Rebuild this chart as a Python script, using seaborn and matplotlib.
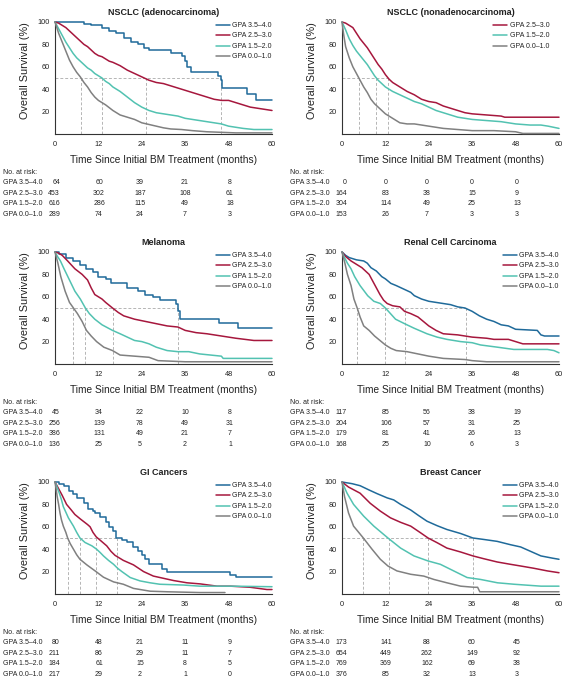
import pandas as pd
import matplotlib
matplotlib.use('Agg')
import matplotlib.pyplot as plt
import seaborn as sns

# ---- data ----
groups = ['GPA 3.5–4.0', 'GPA 2.5–3.0', 'GPA 1.5–2.0', 'GPA 0.0–1.0']
risk_times = [0, 12, 24, 36, 48]

# NSCLC adenocarcinoma
ad_hi_t = [0, 8, 10, 13, 15, 17, 19, 21, 23, 24.5, 26, 32, 35, 36, 36.5, 37.5, 45, 45.8, 46.2, 53, 55.5, 60]
ad_hi_s = [100, 98, 97, 95, 92, 90, 86, 82, 80, 77, 75, 72, 70, 65, 60, 55, 52, 48, 41, 36, 30, 30]
ad_mid_t = [0, 1, 2, 3, 4, 5, 6, 7, 8, 9, 10, 11, 12, 13, 14, 15, 16, 18, 20, 22, 24, 26, 28, 30, 32, 34, 36, 38, 40, 42, 44, 46, 48, 50, 52, 54, 56, 58, 60]
ad_mid_s = [100, 99, 97, 95, 92, 89, 86, 83, 80, 78, 75, 72, 70, 69, 67, 65, 64, 61, 57, 54, 51, 48, 46, 45, 43, 41, 39, 37, 35, 33, 31, 30, 30, 28, 26, 24, 23, 22, 21]
ad_low_t = [0, 1, 2, 3, 4, 5, 6, 7, 8, 9, 10, 11, 12, 13, 14, 15, 16, 18, 20, 22, 24, 26, 28, 30, 32, 34, 36, 38, 40, 42, 44, 46, 48, 50, 52, 55, 60]
ad_low_s = [100, 94, 88, 82, 77, 72, 68, 65, 62, 59, 57, 54, 52, 50, 47, 45, 42, 38, 33, 28, 24, 21, 19, 18, 17, 16, 14, 13, 12, 11, 10, 9, 7, 6, 5, 4, 4]
ad_min_t = [0, 0.5, 1, 2, 3, 4, 5, 6, 7, 8, 9, 10, 11, 12, 13, 14, 16, 18, 20, 22, 24, 26, 28, 30, 32, 35, 38, 42, 46, 50, 60]
ad_min_s = [100, 95, 90, 82, 74, 66, 60, 55, 51, 46, 42, 37, 33, 30, 28, 26, 21, 17, 15, 13, 10, 8.5, 7, 5.5, 4.5, 4, 3, 2, 1.5, 1, 1]
ad_medians = [7.3, 13.1, 25.2, 45.9]
ad_risk_hi = [64, 60, 39, 21, 8]
ad_risk_mid = [453, 302, 187, 108, 61]
ad_risk_low = [616, 286, 115, 49, 18]
ad_risk_min = [289, 74, 24, 7, 3]

# NSCLC nonadenocarcinoma
na_mid_t = [0, 1, 2, 3, 4, 5, 6, 7, 8, 9, 10, 11, 12, 13, 14, 15, 16, 18, 20, 22, 24, 26, 28, 30, 32, 34, 36, 40, 44, 45, 60]
na_mid_s = [100, 99, 97, 95, 90, 85, 81, 77, 72, 67, 62, 58, 53, 49, 46, 44, 42, 38, 35, 31, 29, 28, 25, 23, 21, 19, 18, 17, 16, 15, 15]
na_low_t = [0, 1, 2, 3, 4, 5, 6, 7, 8, 9, 10, 11, 12, 13, 14, 16, 18, 20, 22, 24, 26, 28, 30, 32, 34, 36, 40, 44, 48, 52, 55, 57, 60]
na_low_s = [100, 93, 85, 79, 74, 70, 66, 62, 57, 52, 48, 45, 42, 40, 38, 35, 32, 29, 27, 24, 21, 19, 17, 15, 14, 13, 12, 11, 9, 8, 8, 7, 5]
na_min_t = [0, 0.5, 1, 2, 3, 4, 5, 6, 7, 8, 9, 10, 11, 12, 13, 14, 16, 18, 20, 22, 24, 26, 28, 32, 36, 42, 48, 50, 60]
na_min_s = [100, 88, 78, 68, 60, 54, 48, 42, 37, 31, 27, 24, 21, 18, 16, 14, 10, 9, 9, 8, 7, 6, 5, 4, 3, 3, 2, 0.5, 0.5]
na_medians = [4.6, 9.4, 12.6]
na_risk_hi = [0, 0, 0, 0, 0]
na_risk_mid = [164, 83, 38, 15, 9]
na_risk_low = [304, 114, 49, 25, 13]
na_risk_min = [153, 26, 7, 3, 3]

# Melanoma
me_hi_t = [0, 1, 3, 5, 7, 8.5, 10.5, 12, 14, 15.5, 20, 23, 25, 27, 29, 33.5, 34, 34.5, 45.3, 50.5, 60]
me_hi_s = [100, 98, 95, 92, 88, 85, 82, 78, 76, 72, 68, 65, 62, 60, 57, 54, 47, 40, 37, 32, 32]
me_mid_t = [0, 1, 2, 3.5, 5.5, 7.5, 9, 10, 11, 13, 14, 15.9, 17.5, 19, 22, 25, 28, 31, 34, 36, 39, 42, 46, 50, 55, 60]
me_mid_s = [100, 99, 97, 92, 85, 80, 75, 68, 62, 58, 55, 50, 46, 43, 40, 38, 36, 34, 33, 30, 28, 27, 25, 23, 21, 21]
me_low_t = [0, 0.7, 1.5, 2.5, 4, 5.5, 7, 8.4, 9.5, 11, 13, 15.9, 18, 20, 22, 24, 26, 28, 31, 34, 37, 40, 43, 46, 46.5, 60]
me_low_s = [100, 96, 92, 85, 75, 65, 58, 50, 45, 40, 35, 30, 27, 24, 21, 20, 18, 15, 12, 11, 11, 9, 8, 7, 5, 5]
me_min_t = [0, 0.8, 1.6, 2.8, 4, 5.1, 6.2, 7.5, 8.7, 10, 11.5, 13.5, 15.9, 18, 22, 26, 28.5, 36, 60]
me_min_s = [100, 90, 78, 65, 55, 50, 45, 38, 30, 25, 20, 15, 12, 8, 7, 6, 3, 2, 2]
me_medians = [5.1, 8.4, 15.9, 34.0]
me_risk_hi = [45, 34, 22, 10, 8]
me_risk_mid = [256, 139, 78, 49, 31]
me_risk_low = [386, 131, 49, 21, 7]
me_risk_min = [136, 25, 5, 2, 1]

# Renal cell carcinoma
rc_hi_t = [0, 1, 2, 4, 6, 7, 8, 9.5, 11, 12, 13.5, 15, 17, 19, 20, 22, 24, 26, 28, 30, 32, 34, 36, 38, 40, 42, 44, 46, 48, 54, 55, 56, 60]
rc_hi_s = [100, 97, 95, 93, 92, 90, 86, 83, 78, 76, 72, 70, 67, 64, 61, 58, 56, 55, 54, 53, 51, 50, 47, 43, 40, 38, 35, 34, 31, 30, 26, 25, 25]
rc_mid_t = [0, 1, 2.5, 4, 5.5, 7.5, 8.5, 9.5, 10.5, 11.5, 12.5, 14, 16, 17.3, 19, 21, 22.5, 24, 26, 28, 32, 36, 40, 42, 46, 48, 50, 60]
rc_mid_s = [100, 96, 92, 89, 86, 80, 74, 68, 62, 57, 54, 52, 51, 47, 45, 42, 38, 34, 30, 27, 26, 24, 23, 22, 22, 20, 18, 18]
rc_low_t = [0, 0.7, 1.5, 2.5, 3.5, 5, 7.1, 8.8, 10.6, 12, 13.4, 14.8, 17.3, 19.9, 23.5, 26.3, 29, 32.8, 36, 38.3, 43, 47.5, 56.8, 58.6, 60]
rc_low_s = [100, 95, 90, 85, 78, 70, 61, 56, 54, 50, 45, 40, 36, 32, 27, 24, 22, 20, 19, 17, 15, 13, 13, 12, 10]
rc_min_t = [0, 0.8, 1.5, 2.5, 3.3, 4.2, 5, 6, 7.5, 9, 10.5, 12, 13.5, 15, 18, 21, 24, 28, 34, 36, 40, 60]
rc_min_s = [100, 90, 80, 70, 58, 50, 42, 34, 30, 25, 21, 17, 14, 12, 11, 9, 7, 5, 4, 3, 2, 2]
rc_medians = [4.2, 12.0, 17.3, 34.4]
rc_risk_hi = [117, 85, 56, 38, 19]
rc_risk_mid = [204, 106, 57, 31, 25]
rc_risk_low = [179, 81, 41, 26, 13]
rc_risk_min = [168, 25, 10, 6, 3]

# GI cancers
gi_hi_t = [0, 1, 2.5, 4, 5, 6, 8, 9, 10.5, 11, 12.5, 14, 15, 16, 17, 18.5, 20, 21.5, 23, 24, 25, 26, 29.5, 31, 48.5, 50, 60]
gi_hi_s = [100, 98, 96, 92, 89, 86, 81, 76, 74, 72, 69, 64, 60, 56, 50, 48, 46, 42, 38, 35, 31, 27, 22, 20, 17, 15, 15]
gi_mid_t = [0, 1, 2, 3.2, 4.5, 5.5, 7, 7.8, 9, 9.7, 10.5, 11.4, 12.5, 14.3, 15.5, 16.6, 18.9, 21.7, 24.5, 27.2, 30, 32.8, 36.5, 40.2, 44.8, 48.5, 54, 58.6, 60]
gi_mid_s = [100, 94, 88, 80, 75, 71, 67, 65, 62, 60, 55, 51, 48, 43, 38, 34.5, 30, 26, 20, 16, 14, 12, 10, 9, 7, 7, 6, 4, 4]
gi_low_t = [0, 0.6, 1.2, 1.8, 2.3, 3, 3.7, 5.1, 6, 6.9, 8.3, 10.2, 11.5, 12.5, 13.4, 14.8, 16.2, 17.3, 18.5, 20.8, 23.5, 26.3, 29, 35.5, 40, 49, 60]
gi_low_s = [100, 95, 90, 84, 78, 73, 68, 60.6, 55, 50, 46, 43, 40, 37, 34, 30, 26.5, 23, 20, 14.7, 11.7, 10, 8.7, 8, 7, 7, 6.5]
gi_min_t = [0, 0.3, 0.6, 1, 1.4, 1.8, 2.3, 3, 3.5, 4.2, 5.1, 6, 6.9, 8.8, 11.1, 13.4, 16.2, 18.9, 21.7, 26.3, 31, 40, 47]
gi_min_s = [100, 94, 87, 80, 72, 66, 60.6, 55, 50, 45, 40, 35, 31, 26, 20.6, 15, 10.8, 8.7, 5, 2.5, 2, 1.3, 1.3]
gi_medians = [3.5, 6.9, 11.3, 17.1]
gi_risk_hi = [80, 48, 21, 11, 9]
gi_risk_mid = [211, 86, 29, 11, 7]
gi_risk_low = [184, 61, 15, 8, 5]
gi_risk_min = [217, 29, 2, 1, 0]

# Breast cancer
br_hi_t = [0, 2.8, 5, 7.4, 9.7, 12.5, 14.3, 16.2, 19, 21.2, 23.5, 26.3, 29, 32.8, 36.2, 39.2, 42.9, 46.6, 49.4, 52.2, 55, 58.2, 60]
br_hi_s = [100, 98.5, 96.7, 93, 89.6, 85.8, 84, 80, 75, 70, 65, 61, 57.6, 54, 50, 48.7, 47, 44, 42, 38, 34, 32, 31]
br_mid_t = [0, 1.8, 5, 7.8, 10.6, 13.4, 16.2, 19, 21.7, 23.8, 26.3, 29, 32.8, 36.2, 39.2, 42.9, 46.6, 49.4, 53, 56.8, 60]
br_mid_s = [100, 95.5, 90, 81, 74, 68, 64, 60.6, 54.7, 50, 45.8, 41, 37.5, 34, 31.5, 28.6, 26.5, 25, 23, 20.6, 19]
br_low_t = [0, 1.4, 3.2, 6, 8.8, 12.7, 16.2, 19.9, 23.8, 27.2, 30.9, 34.6, 38.3, 43, 47.6, 55, 60]
br_low_s = [100, 90, 80, 69.5, 60.6, 50, 41, 34, 29.5, 26.5, 20.6, 14.7, 13, 10, 8.7, 7, 7]
br_min_t = [0, 0.7, 1.8, 3.2, 5.9, 8.3, 10.6, 12.7, 15.2, 19, 22.6, 25.4, 29, 32.8, 36.5, 37.5, 38.1, 60]
br_min_s = [100, 87, 72.4, 60.6, 50, 40, 31, 25, 20.6, 17.6, 16, 13, 10, 7, 6, 6, 2, 2]
br_medians = [5.9, 12.9, 23.8, 36.2]
br_risk_hi = [173, 141, 88, 60, 45]
br_risk_mid = [654, 449, 262, 149, 92]
br_risk_low = [769, 369, 162, 69, 38]
br_risk_min = [376, 85, 32, 13, 3]

# ---- style ----
sns.set_style('ticks')
plt.rcParams['font.family'] = ['Liberation Sans', 'DejaVu Sans']
colors = ['#1f6a9a', '#a6173d', '#52c2b1', '#808080']
txt_col = '#222222'

W, H = 565, 680
AX_W, AX_H = 217, 112
fig = plt.figure(figsize=(W / 100, H / 100), dpi=100)


def draw_panel(left, top, title, curves, medians, risk, legend_x=1.0):
    ax = fig.add_axes([left / W, 1 - (top + AX_H) / H, AX_W / W, AX_H / H])

    # median guide lines
    ax.plot([0, max(medians)], [50, 50], color='#b5b5b5', lw=0.7, ls=(0, (3, 2)), zorder=1)
    ax.vlines(medians, 0, 50, color='#b5b5b5', lw=0.7, ls=(0, (3, 2)), zorder=1)

    for g, t, s, stepped in curves:
        df = pd.DataFrame({'time': t, 'surv': s})
        sns.lineplot(data=df, x='time', y='surv', ax=ax, color=colors[g], lw=1.1,
                     label=groups[g], estimator=None, sort=False, clip_on=False,
                     drawstyle='steps-post' if stepped else 'default', zorder=3)

    ax.set_xlim(0, 60)
    ax.set_ylim(0, 100)
    ax.set_xticks([0, 12, 24, 36, 48, 60])
    ax.set_yticks([20, 40, 60, 80, 100])
    sns.despine(ax=ax)
    for sp in ['left', 'bottom']:
        ax.spines[sp].set_color('#333333')
        ax.spines[sp].set_linewidth(0.8)
    ax.tick_params(axis='x', length=0, pad=5, labelsize=5.3, labelcolor=txt_col)
    ax.tick_params(axis='y', length=0, pad=3.5, labelsize=5.3, labelcolor=txt_col)

    ax.set_title(title, fontsize=6.5, fontweight='bold', pad=5, color=txt_col)
    ax.set_xlabel('Time Since Initial BM Treatment (months)', fontsize=7.3, color=txt_col)
    ax.xaxis.set_label_coords(0.5, -0.19)
    ax.set_ylabel('Overall Survival (%)', fontsize=7.8, color=txt_col)
    ax.yaxis.set_label_coords(-0.1175, 0.565)

    ax.legend(loc='upper right', bbox_to_anchor=(legend_x, 1.0), frameon=False, fontsize=5,
              handlelength=2.0, handletextpad=0.35, labelspacing=0.5,
              borderaxespad=0, borderpad=0, labelcolor=txt_col)

    # number at risk table
    bottom = top + AX_H
    fig.text((left - 52) / W, 1 - (bottom + 38.5) / H, 'No. at risk:', fontsize=5,
             va='center', ha='left', color=txt_col)
    col_dx = [5, 44, 85, 130, 175]
    for i, row in enumerate(risk):
        y = 1 - (bottom + 48.7 + 10.5 * i) / H
        fig.text((left - 52) / W, y, groups[i], fontsize=5, va='center', ha='left', color=txt_col)
        for j, n in enumerate(row):
            fig.text((left + col_dx[j]) / W, y, str(n), fontsize=5, va='center',
                     ha='right' if j == 0 else 'center', color=txt_col)
    return ax


draw_panel(55, 22, 'NSCLC (adenocarcinoma)',
           [(0, ad_hi_t, ad_hi_s, True), (1, ad_mid_t, ad_mid_s, False),
            (2, ad_low_t, ad_low_s, False), (3, ad_min_t, ad_min_s, False)],
           ad_medians, [ad_risk_hi, ad_risk_mid, ad_risk_low, ad_risk_min])

draw_panel(342, 22, 'NSCLC (nonadenocarcinoma)',
           [(1, na_mid_t, na_mid_s, False), (2, na_low_t, na_low_s, False),
            (3, na_min_t, na_min_s, False)],
           na_medians, [na_risk_hi, na_risk_mid, na_risk_low, na_risk_min], legend_x=0.955)

draw_panel(55, 252, 'Melanoma',
           [(0, me_hi_t, me_hi_s, True), (1, me_mid_t, me_mid_s, False),
            (2, me_low_t, me_low_s, False), (3, me_min_t, me_min_s, False)],
           me_medians, [me_risk_hi, me_risk_mid, me_risk_low, me_risk_min])

draw_panel(342, 252, 'Renal Cell Carcinoma',
           [(0, rc_hi_t, rc_hi_s, False), (1, rc_mid_t, rc_mid_s, False),
            (2, rc_low_t, rc_low_s, False), (3, rc_min_t, rc_min_s, False)],
           rc_medians, [rc_risk_hi, rc_risk_mid, rc_risk_low, rc_risk_min])

draw_panel(55, 482, 'GI Cancers',
           [(0, gi_hi_t, gi_hi_s, True), (1, gi_mid_t, gi_mid_s, False),
            (2, gi_low_t, gi_low_s, False), (3, gi_min_t, gi_min_s, False)],
           gi_medians, [gi_risk_hi, gi_risk_mid, gi_risk_low, gi_risk_min])

draw_panel(342, 482, 'Breast Cancer',
           [(0, br_hi_t, br_hi_s, False), (1, br_mid_t, br_mid_s, False),
            (2, br_low_t, br_low_s, False), (3, br_min_t, br_min_s, False)],
           br_medians, [br_risk_hi, br_risk_mid, br_risk_low, br_risk_min])

fig.savefig('out.png', dpi=100)
